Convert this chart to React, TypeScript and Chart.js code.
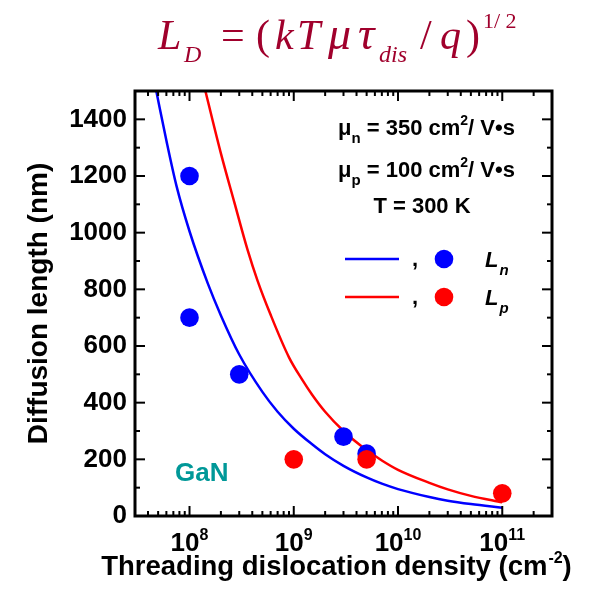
import React, { useEffect, useRef } from 'react';
import { Chart, registerables } from 'chart.js';

Chart.register(...registerables);

// ---- data ----
const BLUE_CURVE_X = [4.8e7, 6e7, 7.5e7, 1e8, 1.5e8, 2e8, 3e8, 5e8, 7e8, 1e9, 1.5e9, 2e9, 3e9, 5e9, 7e9, 1e10, 2e10, 3e10, 5e10, 1e11];
const BLUE_CURVE_Y = [1500, 1325, 1165, 1005, 820, 708, 570, 438, 368, 308, 253, 218, 177, 136, 114, 95, 67, 54, 42, 29];
const RED_CURVE_X = [1.42e8, 2e8, 2.7e8, 3.6e8, 4.5e8, 6e8, 9e8, 1.2e9, 1.5e9, 2e9, 3e9, 4.5e9, 7e9, 1e10, 2e10, 3e10, 5e10, 1e11];
const RED_CURVE_Y = [1500, 1280, 1105, 940, 830, 710, 560, 482, 428, 368, 300, 245, 196, 163, 117, 94, 71, 48];

const BLUE_PTS_X = [1e8, 1e8, 3e8, 3e9, 5e9];
const BLUE_PTS_Y = [1200, 700, 500, 280, 220];
const RED_PTS_X = [1e9, 5e9, 1e11];
const RED_PTS_Y = [200, 200, 80];

const X_MIN = 3e7;
const X_MAX = 3e11;
const Y_MIN = 0;
const Y_MAX = 1500;

const X_DECADES = [1e8, 1e9, 1e10, 1e11];
const X_DECADE_EXPONENTS = ['8', '9', '10', '11'];
const MINOR_MULTIPLIERS = [2, 3, 4, 5, 6, 7, 8, 9];
const X_MINOR_TICKS = [1e7, ...X_DECADES]
  .flatMap((d) => MINOR_MULTIPLIERS.map((m) => m * d))
  .filter((v) => v > X_MIN && v < X_MAX);
const Y_MAJOR_TICKS = [0, 200, 400, 600, 800, 1000, 1200, 1400];
const Y_MINOR_TICKS = [100, 300, 500, 700, 900, 1100, 1300];

const SANS = '"Liberation Sans", Arial, Helvetica, sans-serif';
const SERIF = '"Liberation Serif", "Times New Roman", Times, serif';

const pts = (xs: number[], ys: number[]) => xs.map((x, i) => ({ x, y: ys[i] }));

function drawText(ctx: CanvasRenderingContext2D, s: string, x: number, y: number, font: string, color = '#000') {
  ctx.font = font;
  ctx.fillStyle = color;
  ctx.textAlign = 'left';
  ctx.textBaseline = 'alphabetic';
  ctx.fillText(s, x, y);
  return x + ctx.measureText(s).width;
}

const overlay = {
  id: 'overlay',
  afterDraw(chart: any) {
    const ctx: CanvasRenderingContext2D = chart.ctx;
    const a = chart.chartArea;
    const xs = chart.scales.x;
    const ys = chart.scales.y;
    ctx.save();

    // frame
    ctx.strokeStyle = '#000';
    ctx.lineWidth = 3;
    ctx.strokeRect(a.left, a.top, a.right - a.left, a.bottom - a.top);

    // tick marks (inward, all four sides)
    ctx.lineWidth = 2;
    const seg = (x1: number, y1: number, x2: number, y2: number) => {
      ctx.beginPath();
      ctx.moveTo(x1, y1);
      ctx.lineTo(x2, y2);
      ctx.stroke();
    };
    const MAJ = 10;
    const MIN = 5;
    X_DECADES.forEach((v) => {
      const p = xs.getPixelForValue(v);
      seg(p, a.bottom, p, a.bottom - MAJ);
      seg(p, a.top, p, a.top + MAJ);
    });
    X_MINOR_TICKS.forEach((v) => {
      const p = xs.getPixelForValue(v);
      seg(p, a.bottom, p, a.bottom - MIN);
      seg(p, a.top, p, a.top + MIN);
    });
    Y_MAJOR_TICKS.forEach((v) => {
      const p = ys.getPixelForValue(v);
      seg(a.left, p, a.left + MAJ, p);
      seg(a.right, p, a.right - MAJ, p);
    });
    Y_MINOR_TICKS.forEach((v) => {
      const p = ys.getPixelForValue(v);
      seg(a.left, p, a.left + MIN, p);
      seg(a.right, p, a.right - MIN, p);
    });

    // x tick labels 10^n
    const fBase = `bold 26px ${SANS}`;
    const fExp = `bold 16px ${SANS}`;
    X_DECADES.forEach((v, i) => {
      const p = xs.getPixelForValue(v);
      ctx.font = fBase;
      const w1 = ctx.measureText('10').width;
      ctx.font = fExp;
      const w2 = ctx.measureText(X_DECADE_EXPONENTS[i]).width;
      const start = p - (w1 + w2) / 2;
      const nx = drawText(ctx, '10', start, 551, fBase);
      drawText(ctx, X_DECADE_EXPONENTS[i], nx, 540, fExp);
    });

    // x axis title
    {
      const fT = `bold 27.5px ${SANS}`;
      const fS = `bold 16px ${SANS}`;
      ctx.font = fT;
      const w1 = ctx.measureText('Threading dislocation density (cm').width;
      const w3 = ctx.measureText(')').width;
      ctx.font = fS;
      const w2 = ctx.measureText('-2').width;
      const start = 336 - (w1 + w2 + w3) / 2;
      let nx = drawText(ctx, 'Threading dislocation density (cm', start, 575, fT);
      nx = drawText(ctx, '-2', nx + 1, 563, fS);
      drawText(ctx, ')', nx, 575, fT);
    }

    // parameter annotations
    {
      const fM = `bold 22px ${SANS}`;
      const fSub = `bold 15px ${SANS}`;
      const fSup = `bold 14px ${SANS}`;
      const row = (sub: string, val: string, base: number) => {
        let nx = drawText(ctx, '\u03bc', 338, base, fM);
        nx = drawText(ctx, sub, nx, base + 8, fSub);
        nx = drawText(ctx, ' = ' + val + ' cm', nx, base, fM);
        nx = drawText(ctx, '2', nx, base - 10, fSup);
        drawText(ctx, '/ V\u2022s', nx, base, fM);
      };
      row('n', '350', 135);
      row('p', '100', 177);
      ctx.font = fM;
      const wT = ctx.measureText('T = 300 K').width;
      drawText(ctx, 'T = 300 K', 422 - wT / 2, 213, fM);
    }

    // legend
    {
      const fM = `bold 22px ${SANS}`;
      const fL = `italic bold 22px ${SANS}`;
      const fLs = `italic bold 15px ${SANS}`;
      const entry = (color: string, yc: number, sub: string) => {
        ctx.strokeStyle = color;
        ctx.lineWidth = 2.5;
        seg(345, yc, 399, yc);
        drawText(ctx, ',', 412, yc + 7, fM);
        ctx.fillStyle = color;
        ctx.beginPath();
        ctx.arc(444, yc, 9.3, 0, Math.PI * 2);
        ctx.fill();
        const nx = drawText(ctx, 'L', 485, yc + 8, fL);
        drawText(ctx, sub, nx + 1, yc + 16, fLs);
      };
      entry('#0000FF', 259, 'n');
      entry('#FF0000', 297, 'p');
    }

    // material label
    drawText(ctx, 'GaN', 175, 481, `bold 26px ${SANS}`, '#009898');

    // formula title
    {
      const C = '#A0002C';
      const fI = `italic 42px ${SERIF}`;
      const fG = `italic 46px ${SERIF}`;
      const fR = `42px ${SERIF}`;
      const fSubI = `italic 24px ${SERIF}`;
      const fSup = `22px ${SERIF}`;
      drawText(ctx, 'L', 158, 49, fI, C);
      drawText(ctx, 'D', 184, 62, fSubI, C);
      drawText(ctx, '=', 221, 49, fR, C);
      drawText(ctx, '(', 256, 49, fR, C);
      drawText(ctx, 'k', 275, 49, fI, C);
      drawText(ctx, 'T', 297, 49, fI, C);
      drawText(ctx, '\u03bc', 328, 49, fG, C);
      drawText(ctx, '\u03c4', 358, 49, fG, C);
      drawText(ctx, 'dis', 379, 62, fSubI, C);
      drawText(ctx, '/', 420, 49, fR, C);
      drawText(ctx, 'q', 440, 49, fI, C);
      drawText(ctx, ')', 466, 49, fR, C);
      drawText(ctx, '1/ 2', 483, 28, fSup, C);
    }

    ctx.restore();
  },
};

export default function App() {
  const ref = useRef<HTMLCanvasElement | null>(null);

  useEffect(() => {
    if (!ref.current) return;
    const chart = new Chart(ref.current, {
      type: 'scatter',
      data: {
        datasets: [
          {
            type: 'scatter',
            label: 'Lp data',
            data: pts(RED_PTS_X, RED_PTS_Y),
            backgroundColor: '#FF0000',
            borderWidth: 0,
            pointRadius: 9.3,
            order: 0,
          },
          {
            type: 'scatter',
            label: 'Ln data',
            data: pts(BLUE_PTS_X, BLUE_PTS_Y),
            backgroundColor: '#0000FF',
            borderWidth: 0,
            pointRadius: 9.3,
            order: 1,
          },
          {
            type: 'line',
            label: 'Lp',
            data: pts(RED_CURVE_X, RED_CURVE_Y),
            borderColor: '#FF0000',
            borderWidth: 2.5,
            pointRadius: 0,
            fill: false,
            cubicInterpolationMode: 'monotone',
            order: 2,
          },
          {
            type: 'line',
            label: 'Ln',
            data: pts(BLUE_CURVE_X, BLUE_CURVE_Y),
            borderColor: '#0000FF',
            borderWidth: 2.5,
            pointRadius: 0,
            fill: false,
            cubicInterpolationMode: 'monotone',
            order: 3,
          },
        ] as any,
      },
      options: {
        animation: false,
        responsive: false,
        devicePixelRatio: 1,
        layout: { padding: { left: 0, top: 91, right: 46, bottom: 0 } },
        plugins: { legend: { display: false }, tooltip: { enabled: false } },
        scales: {
          x: {
            type: 'logarithmic',
            min: X_MIN,
            max: X_MAX,
            grid: { display: false, drawTicks: false },
            border: { display: false },
            ticks: { display: false },
            afterFit: (s: any) => {
              s.height = 74;
            },
          },
          y: {
            type: 'linear',
            min: Y_MIN,
            max: Y_MAX,
            grid: { display: false, drawTicks: false },
            border: { display: false },
            afterBuildTicks: (s: any) => {
              s.ticks = Y_MAJOR_TICKS.map((value) => ({ value }));
            },
            ticks: {
              padding: 8,
              color: '#000',
              font: { family: SANS, size: 26, weight: 'bold' },
              callback: (v: any) => String(v),
            },
            title: {
              display: true,
              text: 'Diffusion length (nm)',
              color: '#000',
              font: { family: SANS, size: 28, weight: 'bold' },
              padding: { top: 22, bottom: 0 },
            },
            afterFit: (s: any) => {
              s.width = 135;
            },
          },
        },
      } as any,
      plugins: [overlay],
    });
    return () => chart.destroy();
  }, []);

  return (
    <div style={{ position: 'absolute', left: 0, top: 0, width: 598, height: 590, background: '#fff' }}>
      <canvas ref={ref} width={598} height={590} style={{ display: 'block' }} />
    </div>
  );
}
